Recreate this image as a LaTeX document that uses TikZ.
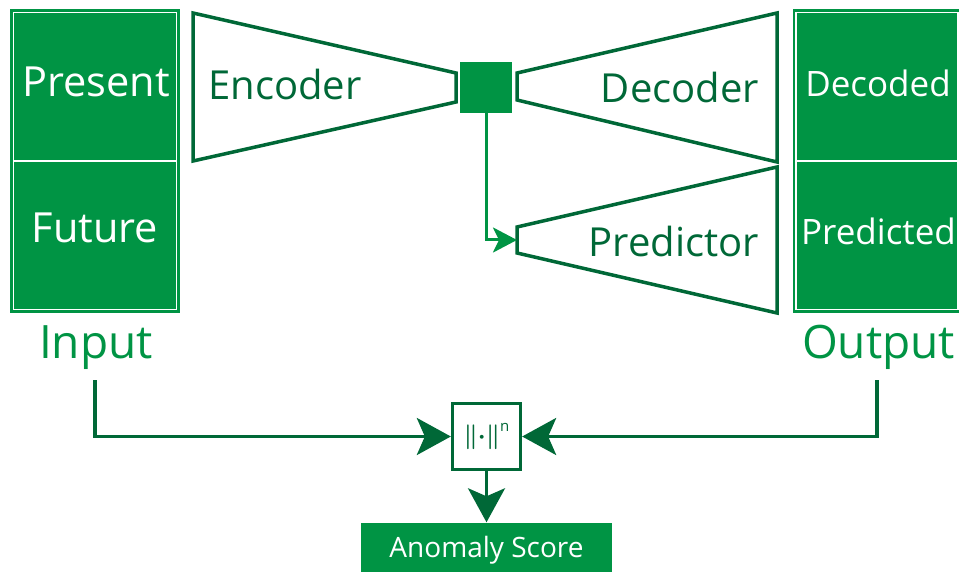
\documentclass[tikz,border=0pt]{standalone}
\usepackage{fontspec}
\setmainfont{Open Sans}
\usetikzlibrary{arrows.meta}
\definecolor{gfill}{HTML}{009444}
\definecolor{gdark}{HTML}{006837}
\newsavebox{\normbox}
\sbox{\normbox}{\fontsize{32}{32}\selectfont\color{gdark}\mathversion{bold}$\|{\cdot}\|$\mathversion{normal}\raisebox{12pt}{\fontsize{15}{15}\selectfont n}}
\tikzset{
  gbox/.style={fill=gfill, draw=none, inner sep=0pt},
  cell/.style={draw=white, line width=1.4pt, fill=none, inner sep=0pt, minimum width=163, minimum height=148.5},
  rcell/.style={draw=white, line width=1.4pt, fill=none, inner sep=0pt, minimum width=162, minimum height=148.5},
  trap/.style={draw=gdark, line width=3.5pt, line join=miter},
  wtext/.style={text=white, inner sep=0pt, anchor=base},
  dtext/.style={text=gdark, inner sep=0pt, anchor=base},
  ltext/.style={text=gfill, inner sep=0pt, anchor=base},
  darrow/.style={draw=gdark, line width=3.3pt, -{Stealth[length=34pt,width=37pt,inset=8pt]}},
  larrow/.style={draw=gfill, line width=3pt, -{Stealth[length=24pt,width=25pt,inset=6pt]}},
}
\begin{document}
\begin{tikzpicture}[x=1pt,y=-1pt]
\useasboundingbox (0,0) rectangle (959,572);
% input stack
\node[gbox, minimum width=170, minimum height=304] (inbox) at (95,161) {};
\node[cell] (present) at (95,86.75) {};
\node[cell] (future) at (95,235.25) {};
\node[wtext, font=\fontsize{41.5}{41.5}\selectfont] (ptxt) at (96,97) {Present};
\node[wtext, font=\fontsize{41.5}{41.5}\selectfont] (ftxt) at (95,243) {Future};
\node[ltext, font=\fontsize{46}{46}\selectfont] (inp) at (96,358) {Input};
% output stack
\node[gbox, minimum width=168, minimum height=304] (outbox) at (877,161) {};
\node[rcell] (decoded) at (877,86.75) {};
\node[rcell] (predicted) at (877,235.25) {};
\node[wtext, font=\fontsize{35}{35}\selectfont] (dtxt) at (878,97) {Decoded};
\node[wtext, font=\fontsize{35}{35}\selectfont] (prtxt) at (878.5,245) {Predicted};
\node[ltext, font=\fontsize{46}{46}\selectfont] (outp) at (878.5,358) {Output};
% encoder / decoder / predictor
\draw[trap] (193,13) -- (456,73) -- (456,102) -- (193,161) -- cycle;
\draw[trap] (517,73) -- (777,13) -- (777,162) -- (517,100) -- cycle;
\draw[trap] (517,227) -- (777,167) -- (777,313) -- (517,253) -- cycle;
\node[dtext, font=\fontsize{40}{40}\selectfont] (enc) at (285,100) {Encoder};
\node[dtext, font=\fontsize{40}{40}\selectfont] (dec) at (680,103) {Decoder};
\node[dtext, font=\fontsize{40}{40}\selectfont] (pred) at (674,257) {Predictor};
% latent
\node[gbox, minimum width=52, minimum height=51] (z) at (486,87.5) {};
\coordinate (predin) at (517,240);
\draw[larrow] (z.south) |- (predin);
% norm
\node[draw=gdark, line width=3.3pt, fill=white, minimum width=68, minimum height=66, inner sep=0pt] (norm) at (486.5,436.5) {\usebox{\normbox}};
\coordinate (inpstart) at (95,380);
\coordinate (outstart) at (877,380);
\draw[darrow] (inpstart) |- (norm.west);
\draw[darrow] (outstart) |- (norm.east);
\node[gbox, minimum width=251, minimum height=50, text=white, font=\fontsize{28}{28}\selectfont, text height=19.5pt, text depth=0pt] (score) at (486.5,547.5) {Anomaly Score};
\draw[darrow] (norm.south) -- (score.north);
\end{tikzpicture}
\end{document}
